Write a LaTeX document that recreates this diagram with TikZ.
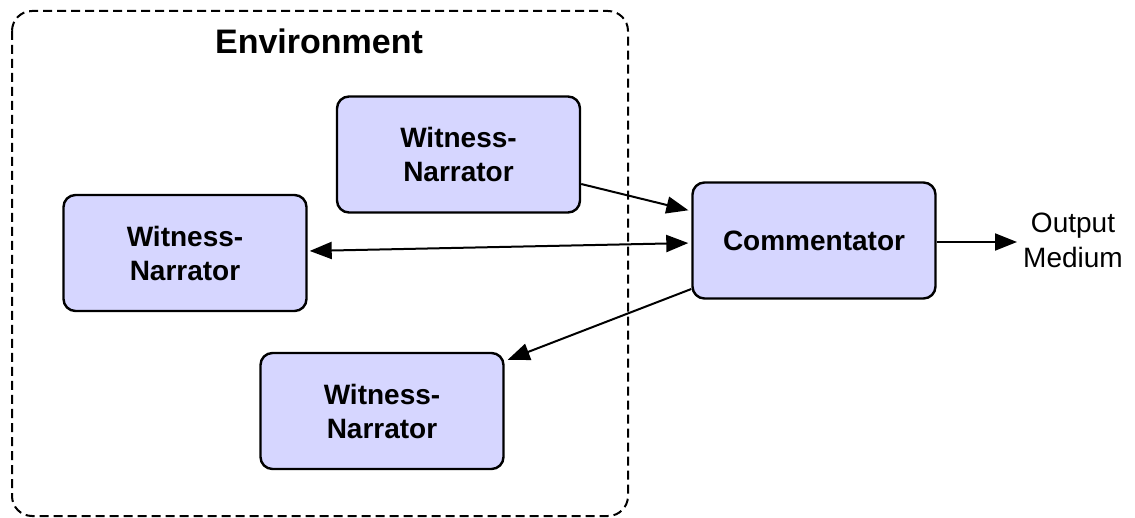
\documentclass[tikz,border=0pt]{standalone}
\usepackage{fontspec}
\setmainfont{Liberation Sans}
\usetikzlibrary{arrows.meta}
\definecolor{boxfill}{RGB}{214,214,255}
\tikzset{
  x=1pt, y=-1pt,
  agent/.style={draw=black, line width=2.4pt, fill=boxfill, rounded corners=12pt,
    minimum width=243pt, minimum height=116pt, align=center, inner sep=0pt,
    font=\fontsize{28pt}{34pt}\selectfont\bfseries},
  conn/.style={line width=2pt, -{Triangle[length=22pt,width=17pt]}},
  envbox/.style={draw=black, line width=2pt, dash pattern=on 9pt off 5pt, rounded corners=20pt}
}
\begin{document}
\begin{tikzpicture}
\useasboundingbox (0,0) rectangle (1135,518);
\draw[envbox] (12,11) rectangle (628,516);
\node[anchor=base, font=\fontsize{34pt}{40pt}\selectfont\bfseries] (envlabel) at (319,54) {Environment};
\node[agent] (wt) at (458.5,154.5) {Witness-\\Narrator};
\node[agent] (wl) at (185,253) {Witness-\\Narrator};
\node[agent] (wb) at (382,411) {Witness-\\Narrator};
\node[agent] (cm) at (814,240.5) {Commentator};
\node[align=center, inner sep=0pt, font=\fontsize{28pt}{35pt}\selectfont] (om) at (1073,240.5) {Output\\Medium};
\draw[conn, shorten >=3pt] ([yshift=-29.5pt]wt.east) -- ([yshift=29.5pt]cm.west);
\draw[conn, {Triangle[length=22pt,width=17pt]}-{Triangle[length=22pt,width=17pt]}, shorten >=3pt, shorten <=2pt] ([yshift=2pt]wl.east) -- ([yshift=-2.5pt]cm.west);
\draw[conn] ([yshift=-48.5pt]cm.west) -- ([xshift=3pt,yshift=-8pt]wb.north east);
\draw[conn, shorten >=6pt] ([yshift=-1.5pt]cm.east) -- ([yshift=-1.5pt]om.west);
\end{tikzpicture}
\end{document}
